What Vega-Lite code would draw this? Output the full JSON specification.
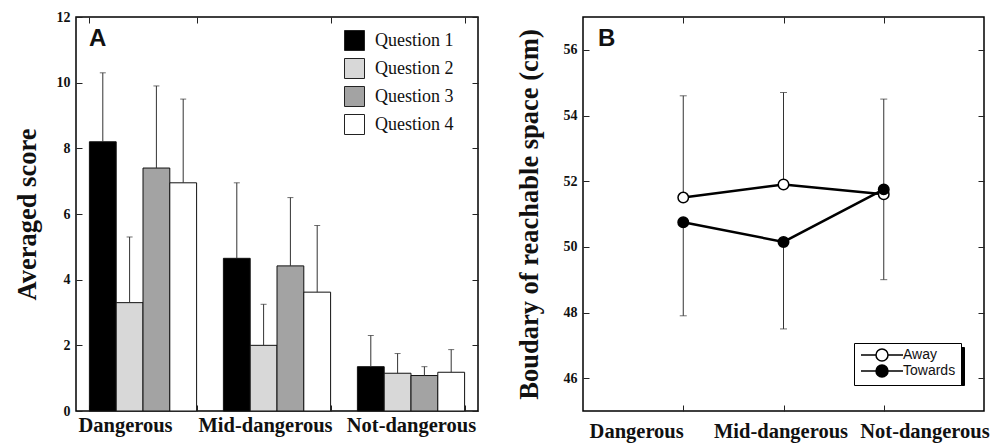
{
  "$schema": "https://vega.github.io/schema/vega-lite/v6.json",
  "background": "white",
  "padding": {"left": 13, "top": 9, "right": 0, "bottom": 0},
  "config": {
    "view": {"stroke": "black", "strokeWidth": 1.5},
    "axis": {"domain": false, "grid": false, "tickColor": "#222", "labelColor": "#111", "titleColor": "#111"}
  },
  "spacing": 35,
  "resolve": {"scale": {"fill": "independent", "stroke": "independent"}, "legend": {"fill": "independent", "stroke": "independent"}},
  "hconcat": [
    {
      "width": 402,
      "height": 394,
      "title": {"text": "A", "anchor": "start", "frame": "group", "offset": -41, "dx": 13, "fontSize": 24, "font": "Liberation Sans", "fontWeight": "bold", "color": "#111"},
      "data": {"values": [
        {"Level": "Dangerous", "Question": "Question 1", "score": 8.2, "upper": 10.3},
        {"Level": "Dangerous", "Question": "Question 2", "score": 3.3, "upper": 5.3},
        {"Level": "Dangerous", "Question": "Question 3", "score": 7.4, "upper": 9.9},
        {"Level": "Dangerous", "Question": "Question 4", "score": 6.95, "upper": 9.5},
        {"Level": "Mid-dangerous", "Question": "Question 1", "score": 4.65, "upper": 6.95},
        {"Level": "Mid-dangerous", "Question": "Question 2", "score": 2.0, "upper": 3.25},
        {"Level": "Mid-dangerous", "Question": "Question 3", "score": 4.42, "upper": 6.5},
        {"Level": "Mid-dangerous", "Question": "Question 4", "score": 3.62, "upper": 5.65},
        {"Level": "Not-dangerous", "Question": "Question 1", "score": 1.35, "upper": 2.3},
        {"Level": "Not-dangerous", "Question": "Question 2", "score": 1.15, "upper": 1.75},
        {"Level": "Not-dangerous", "Question": "Question 3", "score": 1.08, "upper": 1.35},
        {"Level": "Not-dangerous", "Question": "Question 4", "score": 1.18, "upper": 1.87}
      ]},
      "resolve": {"axis": {"x": "independent", "y": "independent"}},
      "layer": [
        {
          "mark": {"type": "bar", "stroke": "#111", "strokeWidth": 1},
          "encoding": {
            "x": {"field": "Level", "type": "nominal", "sort": ["Dangerous", "Mid-dangerous", "Not-dangerous"],
                  "scale": {"paddingInner": 0.2, "paddingOuter": 0.1},
                  "axis": {"orient": "bottom", "title": null, "labelAngle": 0, "tickBand": "extent", "tickSize": -6, "labelPadding": 10, "labelFont": "Liberation Serif", "labelFontSize": 20.5, "labelFontWeight": "bold",
                           "labelOffset": {"condition": [{"test": "datum.value == 'Dangerous'", "value": -18}, {"test": "datum.value == 'Mid-dangerous'", "value": -12}], "value": 0}}},
            "xOffset": {"field": "Question", "type": "nominal", "scale": {"paddingInner": 0, "paddingOuter": 0}},
            "y": {"field": "score", "type": "quantitative", "scale": {"domain": [0, 12], "nice": false},
                  "axis": {"orient": "left", "title": "Averaged score", "values": [0, 2, 4, 6, 8, 10, 12], "tickSize": -6, "labelPadding": 12, "labelFont": "Liberation Serif", "labelFontSize": 14, "labelFontWeight": "bold", "titleFont": "Liberation Serif", "titleFontSize": 26.5, "titleFontWeight": "bold", "titlePadding": 15}},
            "fill": {"field": "Question", "type": "nominal",
                     "scale": {"domain": ["Question 1", "Question 2", "Question 3", "Question 4"], "range": ["#000000", "#d8d8d8", "#a3a3a3", "#ffffff"]},
                     "legend": {"orient": "none", "legendX": 268, "legendY": 13, "title": null, "symbolType": "square", "symbolSize": 400, "symbolStrokeColor": "#222", "symbolStrokeWidth": 1, "labelFont": "Liberation Serif", "labelFontSize": 18, "labelColor": "#111", "rowPadding": 3, "labelOffset": 10}}
          }
        },
        {
          "mark": {"type": "rule", "color": "#333", "strokeWidth": 1},
          "encoding": {
            "x": {"field": "Level", "type": "nominal", "sort": ["Dangerous", "Mid-dangerous", "Not-dangerous"],
                  "axis": {"orient": "top", "title": null, "labels": false, "tickBand": "extent", "tickSize": -6}},
            "xOffset": {"field": "Question", "type": "nominal"},
            "y": {"field": "score", "type": "quantitative",
                  "axis": {"orient": "right", "title": null, "labels": false, "values": [0, 2, 4, 6, 8, 10, 12], "tickSize": -6}},
            "y2": {"field": "upper"}
          }
        },
        {
          "mark": {"type": "tick", "color": "#333", "thickness": 1, "size": 6},
          "encoding": {
            "x": {"field": "Level", "type": "nominal", "sort": ["Dangerous", "Mid-dangerous", "Not-dangerous"], "axis": null},
            "xOffset": {"field": "Question", "type": "nominal"},
            "y": {"field": "upper", "type": "quantitative", "axis": null}
          }
        }
      ]
    },
    {
      "width": 401,
      "height": 394,
      "title": {"text": "B", "anchor": "start", "frame": "group", "offset": -34, "dx": 15, "fontSize": 24, "font": "Liberation Sans", "fontWeight": "bold", "color": "#111"},
      "data": {"values": [
        {"Level": "Dangerous", "Condition": "Away", "mean": 51.5, "bound": 54.6},
        {"Level": "Mid-dangerous", "Condition": "Away", "mean": 51.9, "bound": 54.7},
        {"Level": "Not-dangerous", "Condition": "Away", "mean": 51.6, "bound": 54.5},
        {"Level": "Dangerous", "Condition": "Towards", "mean": 50.75, "bound": 47.9},
        {"Level": "Mid-dangerous", "Condition": "Towards", "mean": 50.15, "bound": 47.5},
        {"Level": "Not-dangerous", "Condition": "Towards", "mean": 51.75, "bound": 49.0}
      ]},
      "resolve": {"axis": {"x": "independent", "y": "independent"}},
      "layer": [
        {
          "mark": {"type": "rule", "color": "#333", "strokeWidth": 1},
          "encoding": {
            "x": {"field": "Level", "type": "ordinal", "sort": ["Dangerous", "Mid-dangerous", "Not-dangerous"],
                  "scale": {"type": "point", "padding": 1},
                  "axis": {"orient": "bottom", "title": null, "labelAngle": 0, "tickSize": -6, "labelPadding": 16, "labelFont": "Liberation Serif", "labelFontSize": 20.5, "labelFontWeight": "bold",
                           "labelAlign": {"condition": [{"test": "datum.value == 'Dangerous'", "value": "right"}, {"test": "datum.value == 'Not-dangerous'", "value": "left"}], "value": "center"},
                           "labelOffset": {"condition": [{"test": "datum.value == 'Dangerous'", "value": 0}, {"test": "datum.value == 'Not-dangerous'", "value": -24}], "value": -3}}},
            "y": {"field": "mean", "type": "quantitative", "scale": {"domain": [45, 57], "nice": false},
                  "axis": {"orient": "left", "title": "Boudary of reachable space (cm)", "values": [46, 48, 50, 52, 54, 56], "tickSize": -6, "labelPadding": 12, "labelFont": "Liberation Serif", "labelFontSize": 14, "labelFontWeight": "bold", "titleFont": "Liberation Serif", "titleFontSize": 26.5, "titleFontWeight": "bold", "titlePadding": 20}},
            "y2": {"field": "bound"}
          }
        },
        {
          "mark": {"type": "tick", "color": "#333", "thickness": 1, "size": 7},
          "encoding": {
            "x": {"field": "Level", "type": "ordinal", "sort": ["Dangerous", "Mid-dangerous", "Not-dangerous"], "axis": null},
            "y": {"field": "bound", "type": "quantitative", "axis": null}
          }
        },
        {
          "mark": {"type": "line", "color": "black", "strokeWidth": 2.5},
          "encoding": {
            "x": {"field": "Level", "type": "ordinal", "sort": ["Dangerous", "Mid-dangerous", "Not-dangerous"],
                  "axis": {"orient": "top", "title": null, "labels": false, "tickSize": -6}},
            "y": {"field": "mean", "type": "quantitative",
                  "axis": {"orient": "right", "title": null, "labels": false, "values": [46, 48, 50, 52, 54, 56], "tickSize": -6}},
            "detail": {"field": "Condition"}
          }
        },
        {
          "mark": {"type": "point", "filled": true, "shape": "circle", "size": 110, "strokeWidth": 1.5, "opacity": 1},
          "encoding": {
            "x": {"field": "Level", "type": "ordinal", "sort": ["Dangerous", "Mid-dangerous", "Not-dangerous"], "axis": null},
            "y": {"field": "mean", "type": "quantitative", "axis": null},
            "fill": {"field": "Condition", "type": "nominal", "scale": {"domain": ["Away", "Towards"], "range": ["#ffffff", "#000000"]},
                     "legend": {"orient": "none", "legendX": 271, "legendY": 326, "title": null, "zindex": 2,
                                "symbolType": "M-3.5,0L-1,0M1,0L3.5,0M-1,0A1,1 0 1,0 1,0A1,1 0 1,0 -1,0Z",
                                "symbolSize": 144, "symbolStrokeColor": "black", "symbolStrokeWidth": 1.5, "symbolOffset": 16, "labelOffset": 14,
                                "labelFont": "Liberation Sans", "labelFontSize": 14, "labelColor": "#111", "rowPadding": -9,
                                "fillColor": "white", "strokeColor": "black", "padding": 5,
                                "encode": {"legend": {"update": {"strokeWidth": {"value": 1.5}}}}}},
            "stroke": {"field": "Condition", "type": "nominal", "scale": {"range": ["#000000", "#000000"]},
                     "legend": {"orient": "none", "legendX": 275, "legendY": 330, "title": null, "zindex": 1,
                                "symbolType": "M-3.5,0L-1,0M1,0L3.5,0M-1,0A1,1 0 1,0 1,0A1,1 0 1,0 -1,0Z",
                                "symbolSize": 144, "symbolOpacity": 0, "symbolOffset": 16, "labelOffset": 66, "labelExpr": "''",
                                "labelFont": "Liberation Sans", "labelFontSize": 14, "rowPadding": -9,
                                "fillColor": "black", "strokeColor": "black", "padding": 5}}
          }
        }
      ]
    }
  ]
}
